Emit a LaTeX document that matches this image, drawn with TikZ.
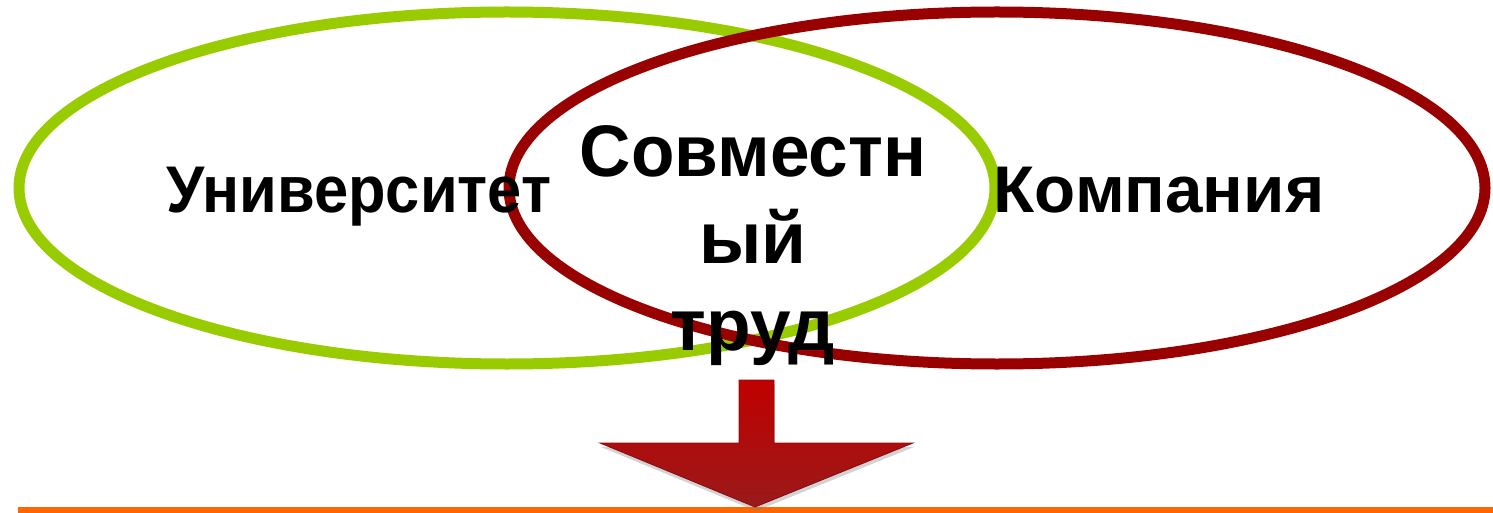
\documentclass[tikz,border=0pt]{standalone}
\usepackage{fontspec}
\setmainfont{Liberation Sans}
\usetikzlibrary{shapes.geometric,shadows}
\definecolor{ugreen}{HTML}{99CC00}
\definecolor{cred}{HTML}{990000}
\definecolor{orangeline}{HTML}{FF6600}
\definecolor{arrtop}{HTML}{C00000}
\definecolor{arrbot}{HTML}{9A1A1A}
\definecolor{arredge}{HTML}{8A0A0A}
\tikzset{
  ring/.style={draw, ellipse, line width=11pt, minimum width=976pt, minimum height=352pt, inner sep=0pt},
  sidetext/.style={font=\bfseries\fontsize{66}{78}\selectfont, inner sep=0pt, anchor=base},
  jointtext/.style={font=\bfseries\fontsize{73}{87}\selectfont, inner sep=0pt, align=center, anchor=base},
}
\begin{document}
\begin{tikzpicture}[x=1pt,y=-1pt]
\useasboundingbox (0,0) rectangle (1493,513);
\node[ring, ugreen] (U) at (507,188) {};
\node[ring, cred] (C) at (997,188) {};
\node[sidetext] (uni) at (359,212) {\scalebox{0.93}[1]{Университет}};
\node[sidetext] (comp) at (1159,212) {\scalebox{1.02}[1]{Компания}};
\node[jointtext] (j1) at (753,177) {\scalebox{0.975}[1]{Совместн}};
\node[jointtext] (j2) at (753,263) {ый};
\node[jointtext] (j3) at (753,350) {труд};
\draw[orangeline, line width=6pt] (18,510) coordinate (L0) -- (1493,510) coordinate (L1);
\path[draw=arredge, line width=0.8pt, top color=arrtop, bottom color=arrbot,
      drop shadow={opacity=0.35, shadow xshift=1pt, shadow yshift=-4pt}]
  (739,380) -- (774,380) -- (774,443) -- (913,443) -- (755,507) -- (600,443) -- (739,443) -- cycle;
\end{tikzpicture}
\end{document}
